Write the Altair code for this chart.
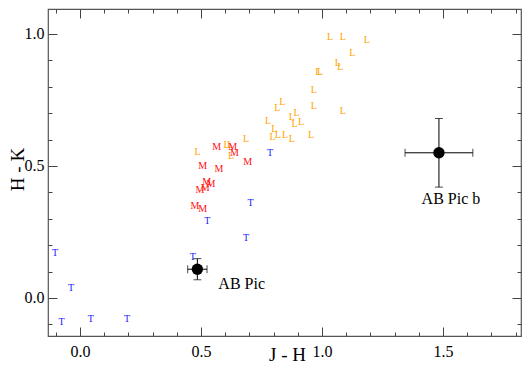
import altair as alt
import pandas as pd

# ---- data ----
L_jh = [1.033, 1.086, 1.185, 1.125, 1.065, 1.076, 0.985, 0.992, 0.966, 0.966, 1.086, 0.836, 0.815,
        0.875, 0.895, 0.777, 0.886, 0.913, 0.803, 0.796, 0.817, 0.847, 0.875, 0.955, 0.686, 0.486,
        0.606, 0.620, 0.624]
L_hk = [0.990, 0.990, 0.977, 0.929, 0.889, 0.876, 0.857, 0.857, 0.788, 0.727, 0.709, 0.742, 0.719,
        0.687, 0.700, 0.672, 0.658, 0.668, 0.641, 0.609, 0.617, 0.617, 0.602, 0.617, 0.602, 0.554,
        0.580, 0.580, 0.538]
M_jh = [0.565, 0.631, 0.638, 0.693, 0.507, 0.574, 0.524, 0.541, 0.496, 0.517, 0.475, 0.507]
M_hk = [0.571, 0.573, 0.548, 0.516, 0.500, 0.489, 0.441, 0.432, 0.409, 0.416, 0.348, 0.337]
T_jh = [-0.103, -0.037, -0.076, 0.045, 0.195, 0.466, 0.526, 0.705, 0.686, 0.785]
T_hk = [0.169, 0.039, -0.090, -0.081, -0.081, 0.154, 0.293, 0.359, 0.228, 0.548]

obj_names = ["AB Pic", "AB Pic b"]
obj_jh = [0.485, 1.483]
obj_hk = [0.109, 0.550]
obj_jh_err = [0.040, 0.140]
obj_hk_err = [0.040, 0.130]

x_major = [0.0, 0.5, 1.0, 1.5]
x_minor = [-0.1, 0.1, 0.2, 0.3, 0.4, 0.6, 0.7, 0.8, 0.9, 1.1, 1.2, 1.3, 1.4, 1.6, 1.7, 1.8]
y_major = [0.0, 0.5, 1.0]
y_minor = [-0.1, 0.1, 0.2, 0.3, 0.4, 0.6, 0.7, 0.8, 0.9]

X_DOM = [-0.132, 1.822]
Y_DOM = [-0.144, 1.0947]
W, H = 473, 327

FONT = "'Liberation Serif', 'Times New Roman', 'DejaVu Serif', serif"
TICK = "#444444"

types = ["L"] * len(L_jh) + ["M"] * len(M_jh) + ["T"] * len(T_jh)
letters = pd.DataFrame({
    "jh": L_jh + M_jh + T_jh,
    "hk": L_hk + M_hk + T_hk,
    "type": types,
})

obj = pd.DataFrame({"name": obj_names, "jh": obj_jh, "hk": obj_hk,
                    "ejh": obj_jh_err, "ehk": obj_hk_err})
obj["xlo"] = obj["jh"] - obj["ejh"]
obj["xhi"] = obj["jh"] + obj["ejh"]
obj["ylo"] = obj["hk"] - obj["ehk"]
obj["yhi"] = obj["hk"] + obj["ehk"]

xs = alt.Scale(domain=X_DOM, nice=False, zero=False)
ys = alt.Scale(domain=Y_DOM, nice=False, zero=False)


def tick_axis(orient, values, size, labels=False, title=None, **kw):
    args = dict(orient=orient, values=values, tickSize=size, offset=-size, domain=False,
                grid=False, labels=labels, tickColor=TICK, tickWidth=1)
    if labels:
        args.update(format=".1f", labelFont=FONT, labelFontSize=16, labelColor="black",
                    labelPadding=4)
    if title is not None:
        args.update(title=title, titleFont=FONT, titleFontSize=19, titleFontWeight="normal",
                    titleColor="black")
    else:
        args.update(title=None)
    args.update(kw)
    return alt.Axis(**args)


def X(field, axis=None):
    return alt.X(field, type="quantitative", scale=xs, axis=axis)


def Y(field, axis=None):
    return alt.Y(field, type="quantitative", scale=ys, axis=axis)


color = alt.Color("type:N", scale=alt.Scale(domain=["L", "M", "T"],
                                            range=["#FFA500", "#FF1010", "#2020FF"]), legend=None)

text_layer = alt.Chart(letters).mark_text(font=FONT, fontSize=10, baseline="middle").encode(
    x=X("jh", tick_axis("bottom", x_major, 9, labels=True, title="J - H", labelPadding=7,
                        titleX=239, titleY=33, titleBaseline="alphabetic", titleAlign="center")),
    y=Y("hk", tick_axis("left", y_major, 9, labels=True, title="H - K",
                        titleX=-40, titleY=160, titleBaseline="middle", titleAlign="center",
                        titleAngle=270)),
    text="type:N",
    color=color,
)

hbar = alt.Chart(obj).mark_rule(color="black", strokeWidth=1).encode(
    x=X("xlo", tick_axis("bottom", x_minor, 4)), x2="xhi",
    y=Y("hk", tick_axis("left", y_minor, 4)),
)
vbar = alt.Chart(obj).mark_rule(color="black", strokeWidth=1).encode(
    x=X("jh", tick_axis("top", x_major, 9)),
    y=Y("ylo", tick_axis("right", y_major, 9)), y2="yhi",
)
cap_l = alt.Chart(obj).mark_tick(color="black", orient="vertical", size=8, thickness=1).encode(
    x=X("xlo", tick_axis("top", x_minor, 4)),
    y=Y("hk", tick_axis("right", y_minor, 4)),
)
cap_r = alt.Chart(obj).mark_tick(color="black", orient="vertical", size=8, thickness=1).encode(
    x=X("xhi"), y=Y("hk"),
)
cap_b = alt.Chart(obj).mark_tick(color="black", orient="horizontal", size=8, thickness=1).encode(
    x=X("jh"), y=Y("ylo"),
)
cap_t = alt.Chart(obj).mark_tick(color="black", orient="horizontal", size=8, thickness=1).encode(
    x=X("jh"), y=Y("yhi"),
)
dots = alt.Chart(obj).mark_circle(color="black", size=130, opacity=1).encode(
    x=X("jh"), y=Y("hk"),
)
lab_a = alt.Chart(obj).transform_filter(alt.datum.name == "AB Pic").mark_text(
    font=FONT, fontSize=16, align="left", baseline="middle", dx=21, dy=15, color="black"
).encode(x=X("jh"), y=Y("hk"), text="name:N")
lab_b = alt.Chart(obj).transform_filter(alt.datum.name == "AB Pic b").mark_text(
    font=FONT, fontSize=16, align="center", baseline="middle", dx=12, dy=46, color="black"
).encode(x=X("jh"), y=Y("hk"), text="name:N")

chart = alt.layer(text_layer, hbar, vbar, cap_l, cap_r, cap_b, cap_t, dots, lab_a, lab_b).resolve_scale(
    x="independent", y="independent"
).properties(
    width=W, height=H,
    autosize=alt.AutoSizeParams(type="none"),
    padding={"left": 40, "top": 1, "right": 1, "bottom": 28},
).configure_view(stroke="#555555", strokeWidth=1.2)

chart.save("out.html", embed_options={"renderer": "svg", "actions": False})
